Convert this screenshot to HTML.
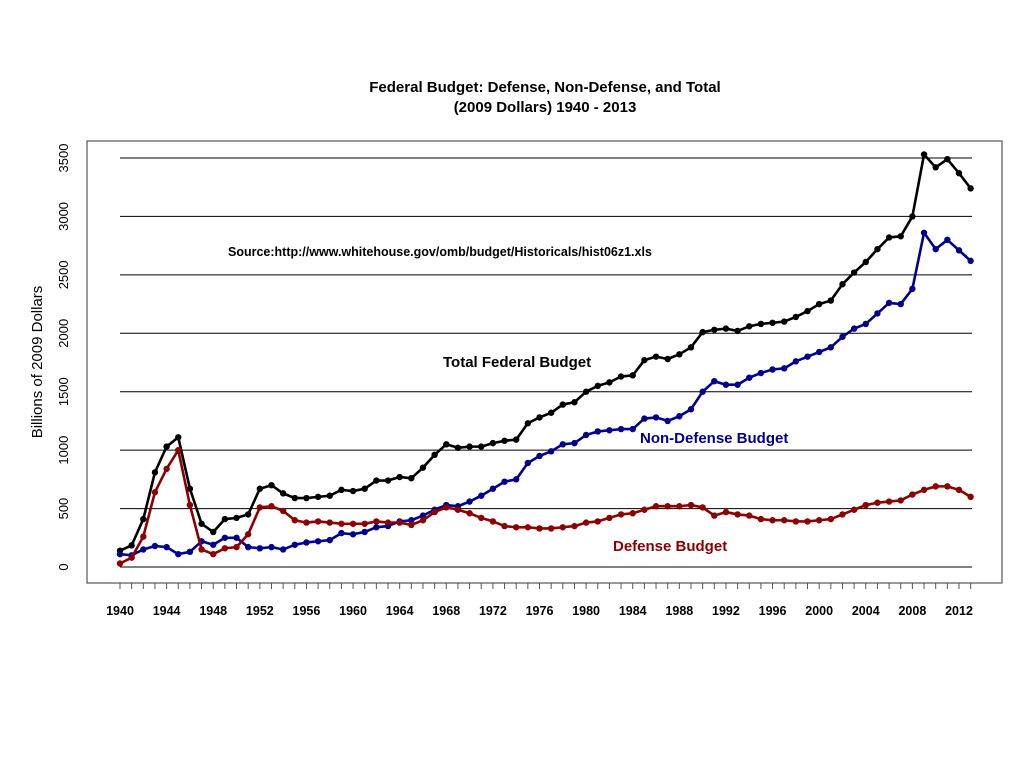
<!DOCTYPE html>
<html><head><meta charset="utf-8"><style>
body{margin:0;background:#fff}
svg text{font-family:"Liberation Sans",Arial,sans-serif}
</style></head><body>
<svg id="chart" width="1024" height="768" xmlns="http://www.w3.org/2000/svg">
<rect width="1024" height="768" fill="#fff"/>
<text x="545" y="92" text-anchor="middle" font-size="15" font-weight="bold">Federal Budget: Defense, Non-Defense, and Total</text>
<text x="545" y="112" text-anchor="middle" font-size="15" font-weight="bold">(2009 Dollars) 1940 - 2013</text>
<g id="grid"></g>
<g id="xaxis"></g>
<g id="yaxis"></g>
<g id="series"></g>
<rect x="87" y="141" width="915" height="442" fill="none" stroke="#555" stroke-width="1.2"/>
<text transform="translate(42,362) rotate(-90)" text-anchor="middle" font-size="15">Billions of 2009 Dollars</text>
<text x="228" y="256" font-size="12.5" font-weight="bold">Source:http://www.whitehouse.gov/omb/budget/Historicals/hist06z1.xls</text>
<text x="443" y="367" font-size="15" font-weight="bold" fill="#000">Total Federal Budget</text>
<text x="640" y="443" font-size="15" font-weight="bold" fill="#00008b">Non-Defense Budget</text>
<text x="613" y="551" font-size="15" font-weight="bold" fill="#8b0000">Defense Budget</text>
</svg>
<script>
const years = [];
for (let y = 1940; y <= 2013; y++) years.push(y);
const yTicks = [0,500,1000,1500,2000,2500,3000,3500];
const xLabels = [1940,1944,1948,1952,1956,1960,1964,1968,1972,1976,1980,1984,1988,1992,1996,2000,2004,2008,2012];
const totalBudget = [140,185,410,810,1030,1110,670,370,300,410,420,450,670,700,630,590,590,600,610,660,650,670,740,740,770,760,850,960,1050,1020,1030,1030,1060,1080,1090,1230,1280,1320,1390,1410,1500,1550,1580,1630,1640,1770,1800,1780,1820,1880,2010,2030,2040,2020,2060,2080,2090,2100,2140,2190,2250,2280,2420,2520,2610,2720,2820,2830,3000,3530,3420,3490,3370,3240];
const nonDefense = [110,100,150,180,170,110,130,220,190,250,250,170,160,170,150,190,210,220,230,290,280,300,340,350,390,400,440,490,530,520,560,610,670,730,750,890,950,990,1050,1060,1130,1160,1170,1180,1180,1270,1280,1250,1290,1350,1500,1590,1560,1560,1620,1660,1690,1700,1760,1800,1840,1880,1970,2040,2080,2170,2260,2250,2380,2860,2720,2800,2710,2620];
const defense = [30,80,260,640,840,1000,530,150,110,160,170,280,510,520,480,400,380,390,380,370,370,370,390,380,380,360,400,470,510,490,460,420,390,350,340,340,330,330,340,350,380,390,420,450,460,490,520,520,520,530,510,440,470,450,440,410,400,400,390,390,400,410,450,490,530,550,560,570,620,660,690,690,660,600];

const NS = 'http://www.w3.org/2000/svg';
const xs = yr => 120 + (yr - 1940) * (839 / 72);
const ys = v => 567 - v * (409 / 3500);
function mk(tag, attrs, parent) {
  const e = document.createElementNS(NS, tag);
  for (const k in attrs) e.setAttribute(k, attrs[k]);
  parent.appendChild(e);
  return e;
}
const grid = document.getElementById('grid');
const xaxis = document.getElementById('xaxis');
const yaxis = document.getElementById('yaxis');
const series = document.getElementById('series');
yTicks.forEach(t => {
  const l = mk('line', {x1:120, x2:972, y1:ys(t), y2:ys(t), stroke:'#000', 'stroke-width':1}, grid);
  
  
  const tx = mk('text', {transform:`translate(68,${ys(t)}) rotate(-90)`, 'text-anchor':'middle', 'font-size':13}, yaxis);
  tx.textContent = t;
  
  
});
years.forEach(yr => {
  const l = mk('line', {x1:xs(yr), x2:xs(yr), y1:583, y2:589, stroke:'#555', 'stroke-width':1}, xaxis);
  
  
});
xLabels.forEach(yr => {
  const tx = mk('text', {x:xs(yr), y:615, 'text-anchor':'middle', 'font-size':12.5, 'font-weight':'bold'}, xaxis);
  tx.textContent = yr;
  
  
});
function drawSeries(vals, color, name) {
  const g = mk('g', {}, series);
  
  
  const pts = vals.map((v, i) => xs(years[i]) + ',' + ys(v)).join(' ');
  mk('polyline', {points:pts, fill:'none', stroke:color, 'stroke-width':2.6, 'stroke-linejoin':'round'}, g);
  vals.forEach((v, i) => {
    const c = mk('circle', {cx:xs(years[i]), cy:ys(v), r:3.2, fill:color}, g);
    
    
  });
}
drawSeries(totalBudget, '#000', 'total-series');
drawSeries(nonDefense, '#00008b', 'non-defense-series');
drawSeries(defense, '#8b0000', 'defense-series');
</script>
</body></html>
